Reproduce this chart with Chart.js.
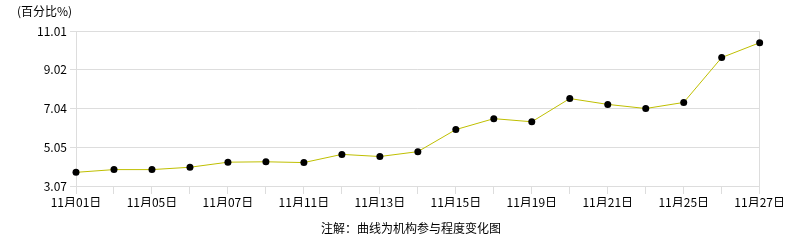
<!DOCTYPE html>
<html>
<head>
<meta charset="utf-8">
<script src="https://cdn.jsdelivr.net/npm/chart.js@4"></script>
<style>
  html, body { margin: 0; padding: 0; background: #fff; }
  #wrap { position: relative; width: 786px; height: 240px; }
  .note { position: absolute; font: 12px "Noto Sans CJK SC", sans-serif; color: #000; white-space: nowrap; }
</style>
</head>
<body>
<div id="wrap">
  <canvas id="chart" width="786" height="240"></canvas>
  <div class="note" id="unit" style="left:17px; top:2px;">(百分比%)</div>
  <div class="note" id="footnote" style="left:0; width:822px; text-align:center; top:219px;">注解：曲线为机构参与程度变化图</div>
</div>
<script>
// Data
const dates = ['11月01日', '11月04日', '11月05日', '11月06日', '11月07日', '11月08日', '11月11日',
  '11月12日', '11月13日', '11月14日', '11月15日', '11月18日', '11月19日', '11月20日', '11月21日',
  '11月22日', '11月25日', '11月26日', '11月27日'];
const participation = [3.77, 3.91, 3.91, 4.03, 4.29, 4.31, 4.27, 4.69, 4.58, 4.83, 5.96,
  6.52, 6.36, 7.55, 7.25, 7.04, 7.35, 9.65, 10.41];
const yTicks = [3.07, 5.05, 7.04, 9.02, 11.01];

const font = { family: '"Noto Sans CJK SC", sans-serif', size: 12 };
const lastIndex = dates.length - 1;

new Chart(document.getElementById('chart').getContext('2d'), {
  type: 'line',
  data: {
    labels: dates,
    datasets: [{
      data: participation,
      borderColor: '#bfbf00',
      borderWidth: 1,
      pointRadius: 3.5,
      pointBackgroundColor: '#000',
      pointBorderColor: '#000',
      pointBorderWidth: 0,
      tension: 0
    }]
  },
  options: {
    responsive: false,
    animation: false,
    layout: { padding: { left: 0, right: 26, top: 31, bottom: 33 } },
    plugins: { legend: { display: false }, tooltip: { enabled: false } },
    scales: {
      x: {
        offset: false,
        border: { display: false },
        grid: {
          color: ctx => (ctx.index === 0 || ctx.index === lastIndex) ? '#dddddd' : 'rgba(0,0,0,0)',
          tickColor: '#dddddd',
          tickLength: 8,
          drawTicks: true
        },
        ticks: {
          color: '#000',
          font: font,
          padding: 1,
          maxRotation: 0,
          autoSkip: false,
          callback: (v, i) => (i % 2 === 0 ? dates[i] : '')
        },
        afterFit: scale => { scale.height = 21; }
      },
      y: {
        min: yTicks[0],
        max: yTicks[yTicks.length - 1],
        border: { display: false },
        grid: { color: '#dddddd', tickColor: '#dddddd', tickLength: 6 },
        ticks: {
          color: '#000',
          font: font,
          padding: 3,
          callback: v => v.toFixed(2)
        },
        afterBuildTicks: scale => { scale.ticks = yTicks.map(v => ({ value: v })); },
        afterFit: scale => { scale.width = 76; }
      }
    }
  }
});
</script>
</body>
</html>
